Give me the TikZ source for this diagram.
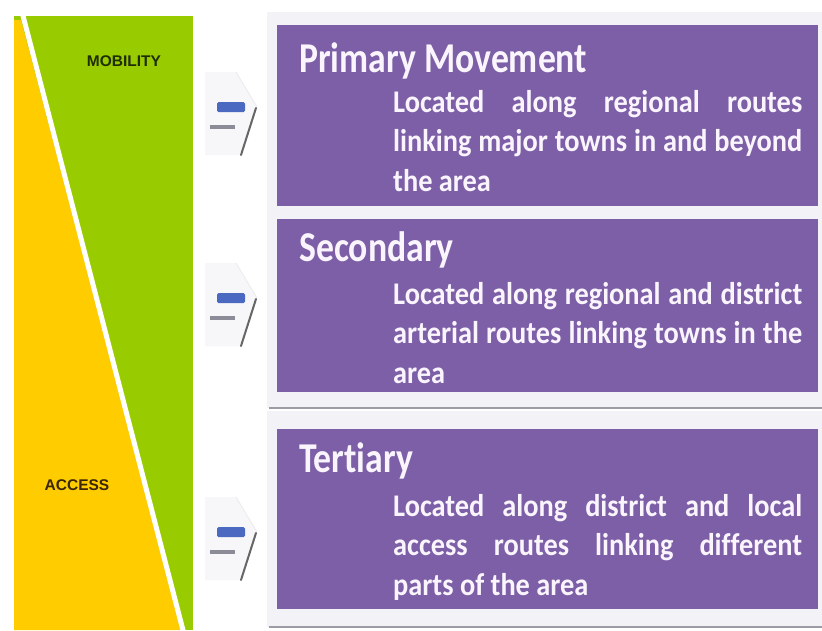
\documentclass[tikz,border=0pt]{standalone}
\usepackage{fontspec}
\newfontfamily\titlefont[FakeStretch=0.84,Ligatures=NoCommon]{Carlito}
\newfontfamily\bodyfont[FakeStretch=0.9,Ligatures=NoCommon]{Carlito}
\newfontfamily\labelfont{Liberation Sans}
\hyphenpenalty=10000
\exhyphenpenalty=10000
\definecolor{mobgreen}{HTML}{99CC00}
\definecolor{accyellow}{HTML}{FFCC00}
\definecolor{boxpurple}{HTML}{7C5FA6}
\definecolor{panelgray}{HTML}{F3F2F7}
\definecolor{shadowgray}{HTML}{9C9CA4}
\definecolor{txtwhite}{HTML}{FAF5FD}
\definecolor{iconblue}{HTML}{4B69C1}
\definecolor{icongray}{HTML}{8C8C98}
\definecolor{iconfaint}{HTML}{F7F7FA}
\definecolor{mobtext}{HTML}{1F2E00}
\definecolor{acctext}{HTML}{3B2600}
\tikzset{
  purplebox/.style={fill=boxpurple, draw=none},
  titletext/.style={font=\titlefont\bfseries\fontsize{42.5}{50}\selectfont, text=txtwhite, inner sep=0pt, anchor=base west},
  bodytext/.style={font=\bodyfont\bfseries\fontsize{31.5}{39.5}\selectfont, text=txtwhite, inner sep=0pt, text width=409pt, align=justify, anchor=base west},
  sidelabel/.style={font=\labelfont\bfseries\fontsize{15.5}{18}\selectfont, inner sep=0pt},
  panel/.style={fill=panelgray, draw=none},
  shadowline/.style={draw=shadowgray, line width=2pt},
  pics/chevicon/.style={code={
    \fill[iconfaint] (205,-30) -- (236,-30) -- (257,5) -- (240,53) -- (205,53) -- cycle;
    \draw[black!8, line width=0.8pt] (236,-30) -- (257,5);
    \fill[iconblue, rounded corners=1.5pt] (217,0) rectangle (245,10);
    \draw[icongray, line width=3.5pt] (210,25) -- (235,25);
    \draw[black!60, line width=2pt, line cap=round] (256,6) -- (241,53);
  }}
}
\begin{document}
\begin{tikzpicture}[x=1pt,y=-1pt]
\useasboundingbox (0,0) rectangle (822,630);
\fill[white] (0,0) rectangle (822,630);

% left mobility/access panel
\fill[mobgreen] (14,16) rectangle (193,630);
\fill[accyellow] (14,20) -- (21,20) -- (182,630) -- (14,630) -- cycle;
\draw[white, line width=5pt] (22,12) -- (184,634);
\node[sidelabel, text=mobtext] (mob) at (124,61) {MOBILITY};
\node[sidelabel, text=acctext] (acc) at (77,485) {ACCESS};

% right panels
\fill[panel] (267,12) rectangle (822,408);
\draw[shadowline] (269,408) -- (822,408);
\fill[panel] (267,411) rectangle (822,627);
\draw[shadowline] (269,627) -- (822,627);

% purple boxes
\fill[purplebox] (277,25) rectangle (818,206);
\fill[purplebox] (277,219) rectangle (818,392);
\fill[purplebox] (277,429) rectangle (818,609);

% arrow icons
\pic (arrA) at (0,102) {chevicon};
\pic (arrB) at (0,293) {chevicon};
\pic (arrC) at (0,527) {chevicon};

% texts
\node[titletext] (t1) at (299,72) {Primary Movement};
\node[bodytext] (b1) at (393,112) {Located along regional routes\linebreak linking major towns in and beyond\linebreak the area};

\node[titletext] (t2) at (299,261) {Secondary};
\node[bodytext] (b2) at (393,304) {Located along regional and district\linebreak arterial routes linking towns in the\linebreak area};

\node[titletext] (t3) at (299,472) {Tertiary};
\node[bodytext] (b3) at (393,516) {Located along district and local\linebreak access routes linking different\linebreak parts of the area};
\end{tikzpicture}
\end{document}
